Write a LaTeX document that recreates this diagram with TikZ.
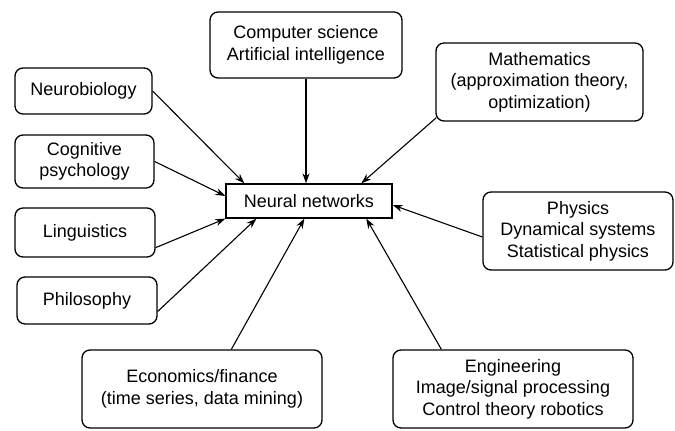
\documentclass[tikz,border=0pt]{standalone}
\usepackage{fontspec}
\setmainfont{Liberation Sans}
\usetikzlibrary{arrows.meta,calc}
\begin{document}
\begin{tikzpicture}[x=1pt,y=-1pt,
  box/.style={draw,line width=1.3pt,rounded corners=8pt,align=center,inner sep=0pt,
    font=\fontsize{18}{21.5}\selectfont},
  arr/.style={line width=1.1pt,-{Stealth[length=10pt,width=7pt]}}]
\useasboundingbox (0,0) rectangle (675,431);
\node[box,minimum width=192pt,minimum height=66pt] (cs) at (306,45) {Computer science\\Artificial intelligence};
\node[box,minimum width=137pt,minimum height=46pt] (neuro) at (83.5,91) {Neurobiology};
\node[box,minimum width=139pt,minimum height=53pt] (cog) at (84.5,161.5) {Cognitive\\psychology};
\node[box,minimum width=140pt,minimum height=49pt] (ling) at (85,232.5) {Linguistics};
\node[box,minimum width=140pt,minimum height=47pt] (phil) at (87,300.5) {Philosophy};
\node[box,minimum width=240pt,minimum height=78pt] (econ) at (202,389) {Economics/finance\\(time series, data mining)};
\node[box,rounded corners=0pt,minimum width=166pt,minimum height=34pt] (nn) at (309,201) {Neural networks};
\node[box,minimum width=207pt,minimum height=78pt] (math) at (539.5,82) {Mathematics\\(approximation theory,\\optimization)};
\node[box,minimum width=190pt,minimum height=78pt] (phys) at (578,231) {Physics\\Dynamical systems\\Statistical physics};
\node[box,minimum width=240pt,minimum height=78pt] (eng) at (513,389) {Engineering\\Image/signal processing\\Control theory robotics};
\draw[arr] (neuro.east) -- ($(nn.north west)+(19,0)$);
\draw[arr] (cog.east) -- ($(nn.west)+(0,-5)$);
\draw[arr] ($(ling.south east)+(0,-10)$) -- (nn.south west);
\draw[arr] ($(phil.east)+(0,11)$) -- ($(nn.south west)+(31,0)$);
\draw[arr] ($(econ.north west)+(150,0)$) -- ($(nn.south west)+(79,0)$);
\draw[arr] ($(eng.north west)+(49,0)$) -- ($(nn.south west)+(141,0)$);
\draw[arr] ($(phys.west)+(0,6)$) -- ($(nn.east)+(0,4)$);
\draw[arr] ($(math.south west)+(1,-4)$) -- ($(nn.north west)+(136,0)$);
\draw[arr] (cs.south) -- (cs.south |- nn.north);
\end{tikzpicture}
\end{document}
